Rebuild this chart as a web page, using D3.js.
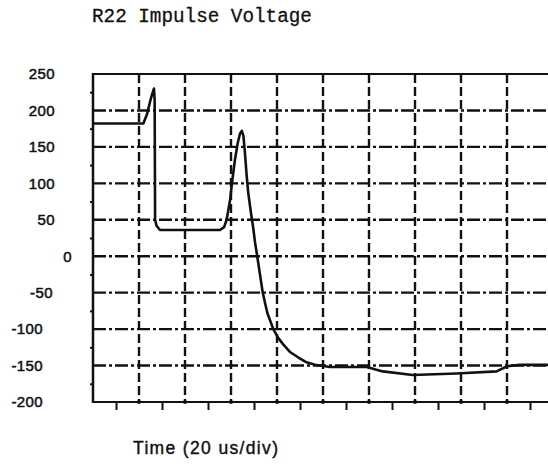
<!DOCTYPE html>
<html>
<head>
<meta charset="utf-8">
<script src="https://cdn.jsdelivr.net/npm/d3@7"></script>
<style>
  html, body { margin: 0; padding: 0; background: #fff; }
  svg { display: block; }
</style>
</head>
<body>
<svg id="chart" width="548" height="466"></svg>
<script>
// ---- data (time in microseconds, voltage) ----
const timeValues = [0, 21.9, 23.5, 24.8, 25.7, 26.5, 26.8, 27.0, 27.6, 29.1, 55.2, 57.0, 58.1, 59.6, 60.4, 61.7, 62.9, 63.9, 64.7, 65.4, 66.1, 66.8, 67.5, 68.7, 69.7, 70.4, 71.4, 73.8, 75.8, 78.4, 80.5, 82.7, 85.5, 89.3, 92.5, 96.5, 103, 119, 126, 139, 158, 175.5, 180, 185.7, 200];
const voltageValues = [182, 182, 195, 212, 222, 230, 215, 50, 42, 36, 36, 40, 50, 77, 100, 132, 155, 168, 172, 165, 140, 111, 87, 59, 38, 20, 0, -50, -78, -100, -112, -121, -131, -139, -145, -149, -152, -152, -158, -163, -161, -158, -151, -149, -149];
const yTickLabels = [250, 200, 150, 100, 50, 0, -50, -100, -150, -200];
const yGridValues = [200, 150, 100, 50, 0, -50, -100, -150];
const yMinorTicks = [225, 175, 125, 75, 25, -25, -75, -125, -175];
const xGridValues = [20, 40, 60, 80, 100, 120, 140, 160, 180];
const xMinorTicks = [10, 30, 50, 70, 90, 110, 130, 150, 170, 190];
const titleText = "R22 Impulse Voltage";
const xAxisTitle = "Time (20 us/div)";

const svg = d3.select("#chart");
const W = 548;
const x = d3.scaleLinear().domain([0, 200]).range([93, 553]);
const y = d3.scaleLinear().domain([-200, 250]).range([402, 74]);

// Title
svg.append("text")
  .attr("x", 92).attr("y", 21.5)
  .attr("font-family", "'Liberation Mono', 'DejaVu Sans Mono', monospace")
  .attr("font-size", 19.3)
  .attr("fill", "#111")
  .attr("stroke", "#111").attr("stroke-width", 0.3)
  .text(titleText);

// Grid lines
const grid = svg.append("g").attr("stroke", "#111").attr("fill", "none");
grid.selectAll("line.h").data(yGridValues).join("line")
  .attr("class", "h")
  .attr("x1", x(0)).attr("x2", W)
  .attr("y1", d => y(d)).attr("y2", d => y(d))
  .attr("stroke-width", 2.4)
  .attr("stroke-dasharray", "13,3,3,3");
grid.selectAll("line.v").data(xGridValues).join("line")
  .attr("class", "v")
  .attr("x1", d => x(d)).attr("x2", d => x(d))
  .attr("y1", y(250)).attr("y2", y(-200))
  .attr("stroke-width", 2.4)
  .attr("stroke-dasharray", "9,4");

// Frame: top, left, bottom
svg.append("line").attr("x1", x(0)).attr("x2", W).attr("y1", y(250)).attr("y2", y(250))
  .attr("stroke", "#111").attr("stroke-width", 2);
svg.append("line").attr("x1", x(0)).attr("x2", W).attr("y1", y(-200)).attr("y2", y(-200))
  .attr("stroke", "#111").attr("stroke-width", 2);
svg.append("line").attr("x1", x(0)).attr("x2", x(0)).attr("y1", y(250) - 1).attr("y2", y(-200) + 1)
  .attr("stroke", "#111").attr("stroke-width", 2.5);

// Bottom minor ticks (downward) via axis
const xAxis = d3.axisBottom(x).tickValues(xMinorTicks).tickSize(8).tickFormat("");
const gx = svg.append("g").attr("transform", `translate(0,${y(-200)})`).call(xAxis);
gx.select(".domain").remove();
gx.selectAll(".tick line").attr("stroke", "#111").attr("stroke-width", 2);
// dots where grid meets bottom axis
svg.append("g").selectAll("circle").data(xGridValues).join("circle")
  .attr("cx", d => x(d)).attr("cy", y(-200)).attr("r", 2).attr("fill", "#111");

// Left minor ticks
const yMinorAxis = d3.axisLeft(y).tickValues(yMinorTicks).tickSize(3).tickFormat("");
const gym = svg.append("g").attr("transform", `translate(${x(0)},0)`).call(yMinorAxis);
gym.select(".domain").remove();
gym.selectAll(".tick line").attr("stroke", "#111").attr("stroke-width", 2);

// Left labels via axis
const yAxis = d3.axisLeft(y).tickValues(yTickLabels).tickSize(0).tickFormat(d => String(d));
const gy = svg.append("g").attr("transform", `translate(${x(0)},0)`).call(yAxis);
gy.select(".domain").remove();
gy.selectAll(".tick text")
  .attr("font-family", "'Liberation Sans', Arial, sans-serif")
  .attr("font-size", 15)
  .attr("fill", "#111")
  .attr("stroke", "#111").attr("stroke-width", 0.5)
  .attr("letter-spacing", 0.4)
  .attr("text-anchor", "end")
  .attr("x", d => d > 0 ? -38 : d === 0 ? -21 : d === -50 ? -40 : -50);

// Trace
const pts = timeValues.map((t, i) => [t, voltageValues[i]]);
svg.append("path")
  .datum(pts)
  .attr("fill", "none")
  .attr("stroke", "#111")
  .attr("stroke-width", 2.6)
  .attr("stroke-linejoin", "round")
  .attr("d", d3.line().x(d => x(d[0])).y(d => y(d[1])));

// X axis title
svg.append("text")
  .attr("x", 133).attr("y", 454)
  .attr("font-family", "'Liberation Sans', Arial, sans-serif")
  .attr("font-size", 17.5)
  .attr("fill", "#111")
  .attr("stroke", "#111").attr("stroke-width", 0.4)
  .attr("textLength", 145)
  .attr("lengthAdjust", "spacing")
  .text(xAxisTitle);
</script>
</body>
</html>
